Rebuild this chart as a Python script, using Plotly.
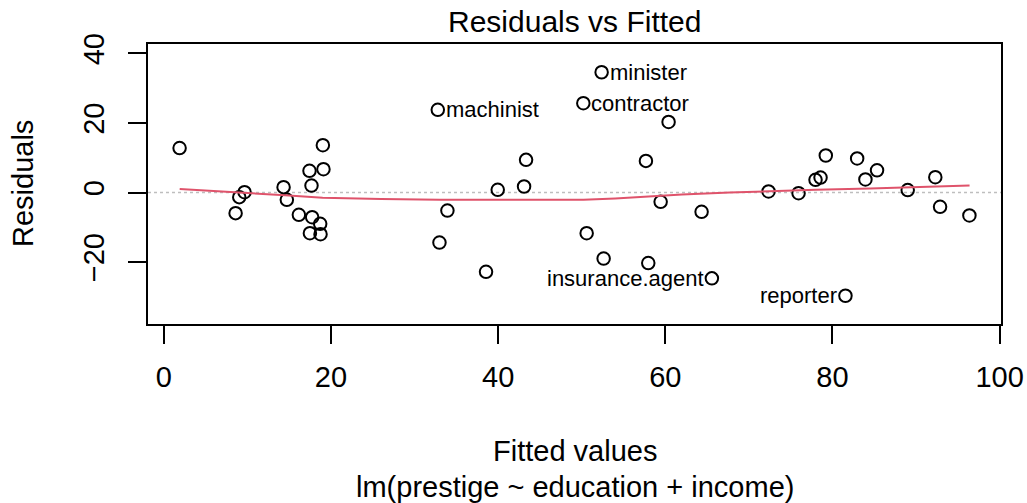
import plotly.graph_objects as go

# Fitted values and residuals of lm(prestige ~ education + income)
fitted = [1.89, 8.59, 9.03, 9.66, 14.33, 14.72, 16.16, 17.43, 17.67, 17.75,
          17.48, 18.71, 18.75, 19.03, 19.10, 32.78, 32.98, 33.93, 38.55, 39.95,
          43.10, 43.34, 50.19, 50.59, 52.38, 52.62, 57.68, 57.96, 59.44, 60.39,
          64.34, 65.57, 72.35, 75.94, 77.97, 78.57, 79.20, 81.55, 82.95, 83.94,
          85.33, 89.00, 92.30, 92.87, 96.38]
residuals = [12.8, -5.93, -1.33, 0.1, 1.55, -2.1, -6.4, 6.24, 2.0, -7.1,
             -11.7, -9.0, -12.0, 13.6, 6.7, 23.8, -14.4, -5.18, -22.8, 0.78,
             1.73, 9.4, 25.7, -11.7, 34.6, -19.0, 9.1, -20.3, -2.68, 20.3,
             -5.55, -24.7, 0.3, -0.2, 3.65, 4.3, 10.65, -29.7, 9.8, 3.75,
             6.4, 0.7, 4.4, -4.1, -6.6]

# Occupations with the largest absolute residuals
id_names = ["machinist", "contractor", "minister", "insurance.agent", "reporter"]
id_index = [15, 22, 24, 31, 37]

# Smoother through the residuals
smooth_x = [1.9, 9.0, 14.5, 19.0, 26.0, 33.0, 40.0, 46.0, 50.2, 54.0,
            57.5, 62.0, 67.7, 72.4, 78.0, 84.5, 90.0, 96.4]
smooth_y = [1.0, 0.1, -0.8, -1.5, -1.9, -2.05, -2.0, -2.05, -2.1, -1.7,
            -1.15, -0.6, 0.0, 0.4, 0.8, 1.15, 1.5, 2.0]

x_ticks = [0, 20, 40, 60, 80, 100]
y_ticks = [-20, 0, 20, 40]

FONT = "Liberation Sans, Arial, Helvetica, sans-serif"
BIG = 29
SMALL = 22

# axis limits: 8% stretch of the residual range, then 4% padding (R style)
def extend(lo, hi, f):
    d = (hi - lo) * f
    return lo - d, hi + d

xr = extend(min(fitted), max(fitted), 0.04)
ylo, yhi = extend(min(residuals), max(residuals), 0.08)
yr = extend(ylo, yhi, 0.04)

fig = go.Figure()

fig.add_trace(go.Scatter(
    x=fitted, y=residuals, mode="markers",
    marker=dict(symbol="circle-open", size=12.5, color="black",
                line=dict(width=2, color="black")),
    showlegend=False, hoverinfo="skip"))

fig.add_trace(go.Scatter(
    x=smooth_x, y=smooth_y, mode="lines",
    line=dict(color="#DF536B", width=2),
    showlegend=False, hoverinfo="skip"))

fig.add_shape(type="line", xref="paper", x0=0, x1=1, yref="y", y0=0, y1=0,
              line=dict(color="#BEBEBE", width=1.5, dash="dot"), layer="below")

# point labels: left half of the labelled range gets text on the right
lab_x = [fitted[i] for i in id_index]
mid = (min(lab_x) + max(lab_x)) / 2
annotations = []
for name, i in zip(id_names, id_index):
    right = fitted[i] <= mid
    annotations.append(dict(
        x=fitted[i], y=residuals[i], xref="x", yref="y", text=name,
        showarrow=False, xanchor="left" if right else "right",
        xshift=6 if right else -6, yanchor="middle",
        font=dict(family=FONT, size=SMALL, color="black")))

W, L, R, T, B = 1027, 148, 26, 44, 179
pw = W - L - R
ph = 503 - T - B

def px_x(p):
    return (p - L) / pw

def px_y(p):
    return (503 - B - p) / ph

annotations += [
    dict(text="Residuals vs Fitted", x=0.5, y=px_y(21), xref="paper", yref="paper",
         showarrow=False, xanchor="center", yanchor="middle",
         font=dict(family=FONT, size=30, color="black")),
    dict(text="Fitted values", x=0.5, y=px_y(451), xref="paper", yref="paper",
         showarrow=False, xanchor="center", yanchor="middle",
         font=dict(family=FONT, size=BIG, color="black")),
    dict(text="lm(prestige ~ education + income)", x=0.5, y=px_y(487),
         xref="paper", yref="paper", showarrow=False, xanchor="center",
         yanchor="middle", font=dict(family=FONT, size=BIG, color="black")),
    dict(text="Residuals", x=px_x(23), y=0.5, xref="paper", yref="paper",
         showarrow=False, xanchor="center", yanchor="middle", textangle=-90,
         font=dict(family=FONT, size=BIG, color="black")),
]

axis_common = dict(ticks="outside", ticklen=18, tickwidth=2, tickcolor="black",
                   showline=True, linewidth=2, linecolor="black", mirror=True,
                   showgrid=False, zeroline=False, automargin=False,
                   tickfont=dict(family=FONT, size=BIG, color="black"))

fig.update_layout(
    width=W, height=503,
    margin=dict(l=L, r=R, t=T, b=B, pad=0, autoexpand=False),
    paper_bgcolor="white", plot_bgcolor="white",
    font=dict(family=FONT, size=BIG, color="black"),
    annotations=annotations,
    xaxis=dict(range=list(xr), tickvals=x_ticks, ticklabelstandoff=8,
               **axis_common),
    yaxis=dict(range=list(yr), tickvals=y_ticks,
               ticktext=["\u221220", "0", "20", "40"], tickangle=-90,
               ticklabelstandoff=12, **axis_common),
)

fig.write_html("out.html")
